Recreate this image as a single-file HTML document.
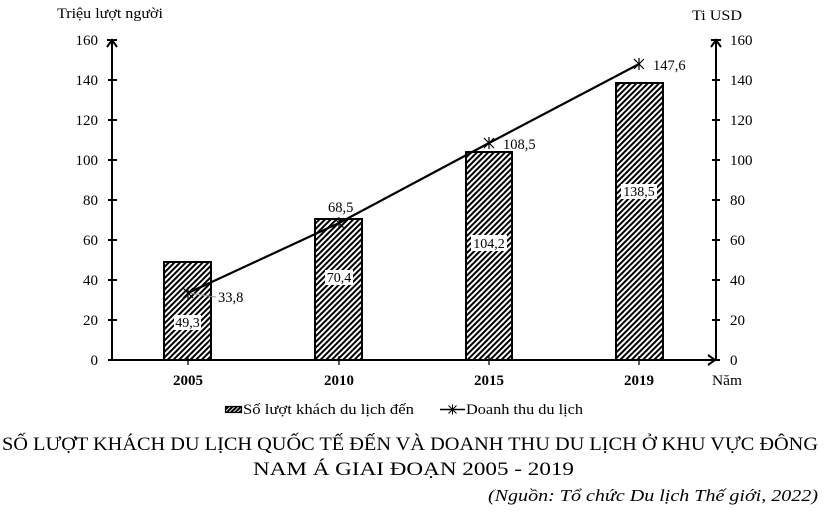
<!DOCTYPE html>
<html>
<head>
<meta charset="utf-8">
<style>
  html, body { margin:0; padding:0; background:#fff; }
  svg { display:block; }
  text { font-family: "Liberation Serif", "DejaVu Serif", serif; fill:#000; }
</style>
</head>
<body>
<svg width="827" height="514" viewBox="0 0 827 514" xmlns="http://www.w3.org/2000/svg">
  <defs>
    <pattern id="hatch" patternUnits="userSpaceOnUse" width="4" height="4" patternTransform="rotate(45)">
      <rect x="0" y="0" width="4" height="4" fill="#fff"/>
      <rect x="0" y="0" width="2" height="4" fill="#000"/>
    </pattern>
    <pattern id="hatch2" patternUnits="userSpaceOnUse" width="3" height="3" patternTransform="rotate(45)">
      <rect x="0" y="0" width="3" height="3" fill="#000"/>
      <rect x="0" y="0" width="0.9" height="3" fill="#fff"/>
    </pattern>
  </defs>

  <!-- Axis titles -->
  <text x="57" y="18" font-size="15" textLength="106" lengthAdjust="spacingAndGlyphs">Triệu lượt người</text>
  <text x="692" y="20" font-size="15" textLength="50" lengthAdjust="spacingAndGlyphs">Ti USD</text>

  <!-- Bars -->
  <rect x="164" y="262" width="47" height="98" fill="url(#hatch)" stroke="#000" stroke-width="2"/>
  <rect x="315" y="219" width="47" height="141" fill="url(#hatch)" stroke="#000" stroke-width="2"/>
  <rect x="466" y="152" width="46" height="208" fill="url(#hatch)" stroke="#000" stroke-width="2"/>
  <rect x="616" y="83" width="47" height="277" fill="url(#hatch)" stroke="#000" stroke-width="2"/>

  <!-- Bar labels -->
  <rect x="174" y="315" width="27" height="15" fill="#fff"/>
  <text x="187.5" y="327" font-size="14" text-anchor="middle">49,3</text>
  <rect x="325" y="270" width="28" height="15" fill="#fff"/>
  <text x="339" y="282" font-size="14" text-anchor="middle">70,4</text>
  <rect x="471" y="235" width="36" height="16" fill="#fff"/>
  <text x="489" y="248" font-size="14" text-anchor="middle">104,2</text>
  <rect x="621" y="184" width="36" height="15" fill="#fff"/>
  <text x="639" y="196" font-size="14" text-anchor="middle">138,5</text>

  <!-- Axes -->
  <g stroke="#000" stroke-width="2" fill="none">
    <line x1="112" y1="40" x2="112" y2="361"/>
    <polyline points="107,47 112,40 117,47"/>
    <line x1="107" y1="40" x2="117" y2="40"/>
    <line x1="108" y1="80" x2="117" y2="80"/>
    <line x1="108" y1="120" x2="117" y2="120"/>
    <line x1="108" y1="160" x2="117" y2="160"/>
    <line x1="108" y1="200" x2="117" y2="200"/>
    <line x1="108" y1="240" x2="117" y2="240"/>
    <line x1="108" y1="280" x2="117" y2="280"/>
    <line x1="108" y1="320" x2="117" y2="320"/>
    <line x1="108" y1="360" x2="112" y2="360"/>
    <line x1="716" y1="40" x2="716" y2="361"/>
    <polyline points="711,47 716,40 721,47"/>
    <line x1="711" y1="40" x2="721" y2="40"/>
    <line x1="712" y1="80" x2="720" y2="80"/>
    <line x1="712" y1="120" x2="720" y2="120"/>
    <line x1="712" y1="160" x2="720" y2="160"/>
    <line x1="712" y1="200" x2="720" y2="200"/>
    <line x1="712" y1="240" x2="720" y2="240"/>
    <line x1="712" y1="280" x2="720" y2="280"/>
    <line x1="712" y1="320" x2="720" y2="320"/>
    <line x1="716" y1="360" x2="720" y2="360"/>
    <line x1="112" y1="360" x2="716" y2="360"/>
    <polyline points="708,355 715,360 708,365"/>
  </g>
  <g stroke="#000" stroke-width="1.3">
    <line x1="188" y1="356" x2="188" y2="365"/>
    <line x1="339" y1="356" x2="339" y2="365"/>
    <line x1="489" y1="356" x2="489" y2="365"/>
    <line x1="639" y1="356" x2="639" y2="365"/>
  </g>

  <!-- Left tick labels -->
  <g font-size="15" text-anchor="end">
    <text x="98" y="45">160</text>
    <text x="98" y="85">140</text>
    <text x="98" y="125">120</text>
    <text x="98" y="165">100</text>
    <text x="98" y="205">80</text>
    <text x="98" y="245">60</text>
    <text x="98" y="285">40</text>
    <text x="98" y="325">20</text>
    <text x="98" y="365">0</text>
  </g>
  <!-- Right tick labels -->
  <g font-size="15" text-anchor="start">
    <text x="730" y="45">160</text>
    <text x="730" y="85">140</text>
    <text x="730" y="125">120</text>
    <text x="730" y="165">100</text>
    <text x="730" y="205">80</text>
    <text x="730" y="245">60</text>
    <text x="730" y="285">40</text>
    <text x="730" y="325">20</text>
    <text x="730" y="365">0</text>
  </g>

  <!-- Year labels -->
  <g font-size="15" font-weight="bold" text-anchor="middle">
    <text x="188" y="385">2005</text>
    <text x="339" y="385">2010</text>
    <text x="489" y="385">2015</text>
    <text x="639" y="385">2019</text>
  </g>
  <text x="712" y="385" font-size="15" textLength="30" lengthAdjust="spacingAndGlyphs">Năm</text>

  <!-- Line series -->
  <line x1="188" y1="293" x2="216" y2="297" stroke="#999" stroke-width="1"/>
  <polyline points="188,293 339,223 489,143 639,64" fill="none" stroke="#000" stroke-width="2.2"/>
  <g stroke="#000" stroke-width="1.2">
    <g transform="translate(188,293)"><line x1="-5" y1="-5" x2="5" y2="5"/><line x1="-5" y1="5" x2="5" y2="-5"/><line x1="0" y1="-6" x2="0" y2="6"/></g>
    <g transform="translate(339,223)"><line x1="-5" y1="-5" x2="5" y2="5"/><line x1="-5" y1="5" x2="5" y2="-5"/><line x1="0" y1="-6" x2="0" y2="6"/></g>
    <g transform="translate(489,143)"><line x1="-5" y1="-5" x2="5" y2="5"/><line x1="-5" y1="5" x2="5" y2="-5"/><line x1="0" y1="-6" x2="0" y2="6"/></g>
    <g transform="translate(639,64)"><line x1="-5" y1="-5" x2="5" y2="5"/><line x1="-5" y1="5" x2="5" y2="-5"/><line x1="0" y1="-6" x2="0" y2="6"/></g>
  </g>
  <g font-size="14.5">
    <text x="218" y="302">33,8</text>
    <text x="328" y="212">68,5</text>
    <text x="503" y="149">108,5</text>
    <text x="653" y="70">147,6</text>
  </g>

  <!-- Legend -->
  <rect x="225.5" y="406.5" width="16" height="6" fill="url(#hatch2)" stroke="#000" stroke-width="1.2"/>
  <text x="243" y="414" font-size="15" textLength="171" lengthAdjust="spacingAndGlyphs">Số lượt khách du lịch đến</text>
  <line x1="440" y1="409.5" x2="465" y2="409.5" stroke="#000" stroke-width="1.5"/>
  <g transform="translate(452.5,409.5)" stroke="#000" stroke-width="1">
    <line x1="-4" y1="-4" x2="4" y2="4"/><line x1="-4" y1="4" x2="4" y2="-4"/><line x1="0" y1="-5" x2="0" y2="5"/>
  </g>
  <text x="466" y="414" font-size="15" textLength="117" lengthAdjust="spacingAndGlyphs">Doanh thu du lịch</text>

  <!-- Title -->
  <text x="2" y="450" font-size="19" textLength="816" lengthAdjust="spacingAndGlyphs">SỐ LƯỢT KHÁCH DU LỊCH QUỐC TẾ ĐẾN VÀ DOANH THU DU LỊCH Ở KHU VỰC ĐÔNG</text>
  <text x="253" y="475" font-size="19" textLength="321" lengthAdjust="spacingAndGlyphs">NAM Á GIAI ĐOẠN 2005 - 2019</text>
  <text x="488" y="501" font-size="17" font-style="italic" textLength="330" lengthAdjust="spacingAndGlyphs">(Nguồn: Tổ chức Du lịch Thế giới, 2022)</text>
</svg>
</body>
</html>
